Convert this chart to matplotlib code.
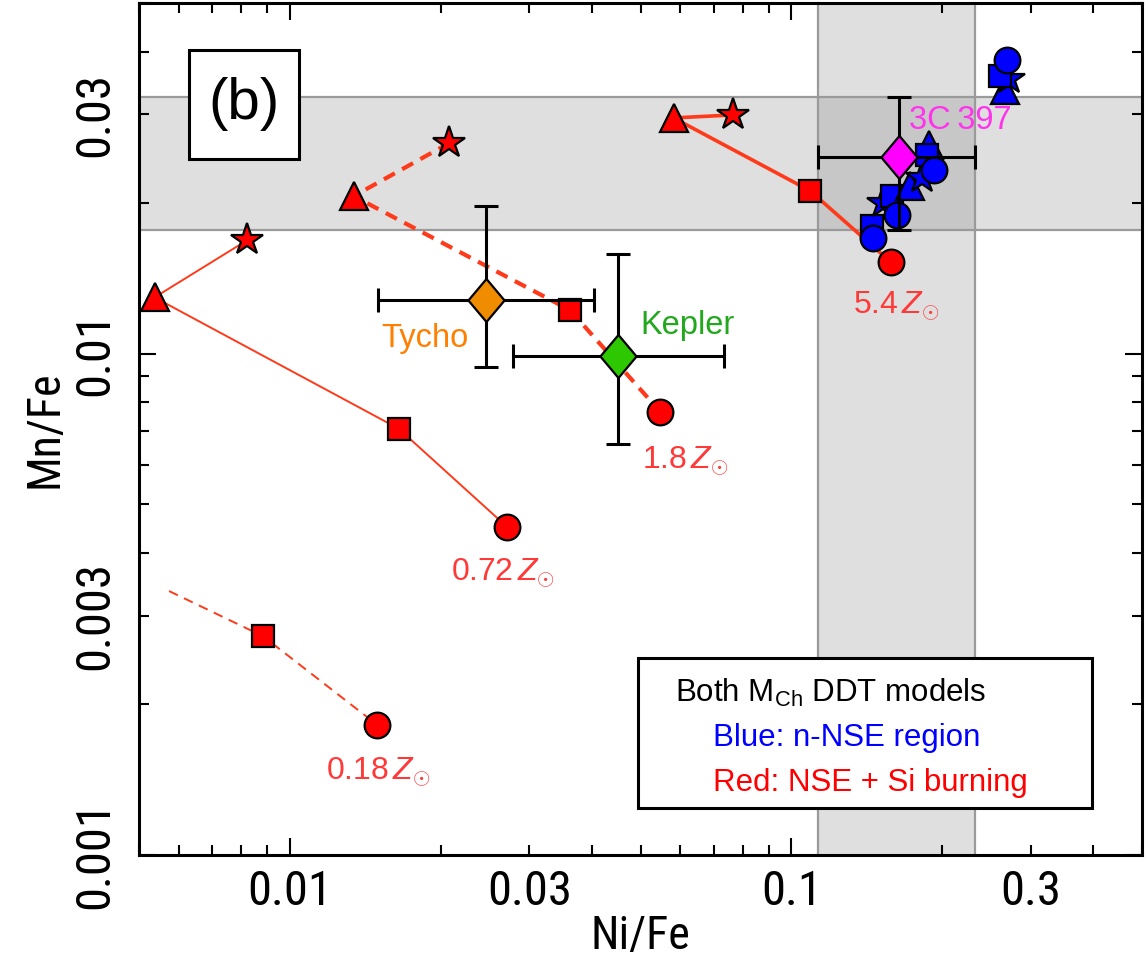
import matplotlib
matplotlib.use("Agg")
import matplotlib.pyplot as plt
from matplotlib import font_manager as fm
from matplotlib.ticker import FixedLocator, FuncFormatter
from matplotlib.patches import Rectangle
from matplotlib.path import Path

# ---------------- data ----------------
xlim = (0.005, 0.5)
ylim = (0.001, 0.05)

# SNR observations: Ni/Fe, Mn/Fe with (low, high) ranges
snr_names = ["Tycho", "Kepler", "3C\u2009397"]
snr_ni = [0.0246, 0.0451, 0.164]
snr_ni_lo = [0.0150, 0.0279, 0.113]
snr_ni_hi = [0.0404, 0.0733, 0.232]
snr_mn = [0.0128, 0.0099, 0.0247]
snr_mn_lo = [0.0094, 0.0066, 0.0176]
snr_mn_hi = [0.0197, 0.0158, 0.0325]

# red models (NSE + Si burning), points ordered star, triangle, square, circle
model_labels = ["0.18", "0.72", "1.8", "5.4"]
red_018_ni = [0.00574, 0.00884, 0.0149]
red_018_mn = [0.00336, 0.00273, 0.00182]
red_018_mk = ["", "s", "o"]
red_072_ni = [0.00822, 0.00537, 0.01648, 0.0271]
red_072_mn = [0.01683, 0.01294, 0.00708, 0.00451]
red_18_ni = [0.0208, 0.0134, 0.0362, 0.0547]
red_18_mn = [0.0263, 0.0206, 0.0122, 0.00766]
red_54_ni = [0.0763, 0.0582, 0.109, 0.158]
red_54_mn = [0.0299, 0.0295, 0.0211, 0.0152]
red_mk = ["*", "^", "s", "o"]

# blue models (n-NSE region)
blue_ni = [0.266, 0.272, 0.2606, 0.2685,
           0.145, 0.1456, 0.152, 0.159, 0.1625, 0.172, 0.182, 0.188, 0.186, 0.192]
blue_mn = [0.0336, 0.0352, 0.0358, 0.0384,
           0.0180, 0.0170, 0.0200, 0.0206, 0.0189, 0.0216, 0.0224, 0.0261, 0.0249, 0.0232]
blue_mk = ["^", "*", "s", "o",
           "s", "o", "*", "s", "o", "^", "*", "^", "s", "o"]

# ---------------- style ----------------
names = {f.name for f in fm.fontManager.ttflist}
base = "Liberation Sans" if "Liberation Sans" in names else "DejaVu Sans"
narrow = base
for cand in ["Liberation Sans Narrow", "Arial Narrow", "Nimbus Sans Narrow",
             "Roboto Condensed", "Open Sans Condensed"]:
    if cand in names:
        narrow = cand
        break
plt.rcParams["font.family"] = [base, "DejaVu Sans"]
plt.rcParams["mathtext.fontset"] = "custom"
plt.rcParams["mathtext.rm"] = base
plt.rcParams["mathtext.it"] = base + ":italic"

LINE_RED = "#ff3a1a"
FILL_RED = "#ff0000"
TXT_RED = "#ff3838"

fig = plt.figure(figsize=(11.45, 9.58), dpi=100)
ax = fig.add_axes([139 / 1145, 103 / 958, 1003 / 1145, 852 / 958])
ax.set_xscale("log")
ax.set_yscale("log")
ax.set_xlim(*xlim)
ax.set_ylim(*ylim)

# shaded 3C 397 ranges
i3 = 2
ax.axhspan(snr_mn_lo[i3], snr_mn_hi[i3], color="0.5", alpha=0.25, lw=0, zorder=0)
ax.axvspan(snr_ni_lo[i3], snr_ni_hi[i3], color="0.5", alpha=0.25, lw=0, zorder=0)
for v in (snr_mn_lo[i3], snr_mn_hi[i3]):
    ax.axhline(v, color="#9a9a9a", lw=1.6, zorder=0.5)
for v in (snr_ni_lo[i3], snr_ni_hi[i3]):
    ax.axvline(v, color="#9a9a9a", lw=1.6, zorder=0.5)

msz = {"o": 18.5, "s": 16, "^": 20, "*": 24, "": 0}
mew = 1.6

def draw_model(xs, ys, mks, ls, lw, dashes=None):
    line, = ax.plot(xs, ys, color=LINE_RED, lw=lw, ls=ls, zorder=2)
    if dashes is not None:
        line.set_dashes(dashes)
    for x, y, m in zip(xs, ys, mks):
        if m:
            ax.plot([x], [y], marker=m, ms=msz[m], mfc=FILL_RED, mec="black",
                    mew=mew, ls="none", zorder=3)

draw_model(red_018_ni, red_018_mn, red_018_mk, "--", 1.4, dashes=(5, 3.5))
draw_model(red_072_ni, red_072_mn, red_mk, "-", 1.4)
draw_model(red_18_ni, red_18_mn, red_mk, "--", 3.0, dashes=(3, 2))
draw_model(red_54_ni, red_54_mn, red_mk, "-", 2.6)

for x, y, m in zip(blue_ni, blue_mn, blue_mk):
    ax.plot([x], [y], marker=m, ms=msz[m], mfc="#0000ff", mec="black",
            mew=mew, ls="none", zorder=4)

# SNR diamonds
diamond = Path([(0, 1), (0.84, 0), (0, -1), (-0.84, 0), (0, 1)],
               [Path.MOVETO, Path.LINETO, Path.LINETO, Path.LINETO, Path.CLOSEPOLY])
snr_fill = ["#f08c00", "#2ec800", "#ff00ff"]
snr_txt = ["#ff7f00", "#22a81c", "#ff33ee"]
snr_off = [(-44, -28), (50, 22), (44, 26)]
for k in range(3):
    xe = [[snr_ni[k] - snr_ni_lo[k]], [snr_ni_hi[k] - snr_ni[k]]]
    ye = [[snr_mn[k] - snr_mn_lo[k]], [snr_mn_hi[k] - snr_mn[k]]]
    ax.errorbar([snr_ni[k]], [snr_mn[k]], xerr=xe, yerr=ye, fmt="none",
                ecolor="black", elinewidth=2.2, capsize=8.5, capthick=2.2, zorder=5)
    ax.plot([snr_ni[k]], [snr_mn[k]], marker=diamond, ms=31, mfc=snr_fill[k],
            mec="black", mew=1.6, ls="none", zorder=6)
    ax.annotate(snr_names[k], (snr_ni[k], snr_mn[k]), xytext=snr_off[k],
                textcoords="offset points", ha="center", va="center",
                fontsize=23.5, color=snr_txt[k], zorder=7)

# metallicity labels at circle points
lab_pts = [(red_018_ni[-1], red_018_mn[-1], (1, -34)),
           (red_072_ni[-1], red_072_mn[-1], (-3, -33)),
           (red_18_ni[-1], red_18_mn[-1], (18, -35)),
           (red_54_ni[-1], red_54_mn[-1], (4, -31))]
for lab, (x, y, off) in zip(model_labels, lab_pts):
    ax.annotate(lab + r"$\,Z_{\odot}$", (x, y), xytext=off,
                textcoords="offset points", ha="center", va="center",
                fontsize=23, color=TXT_RED, zorder=7)

# (b) box
ax.add_patch(Rectangle((0.0499, 0.817), 0.1096, 0.128, transform=ax.transAxes,
                       fc="white", ec="black", lw=2.2, zorder=8))
ax.text(0.1047, 0.881, "(b)", transform=ax.transAxes, ha="center", va="center",
        fontsize=42, zorder=9)

# legend box
ax.add_patch(Rectangle((0.4975, 0.0552), 0.4525, 0.176, transform=ax.transAxes,
                       fc="white", ec="black", lw=2.2, zorder=8))
ax.text(0.534, 0.190, r"Both M$_{\mathrm{Ch}}$ DDT models", transform=ax.transAxes,
        ha="left", va="center", fontsize=22.5, color="black", zorder=9)
ax.text(0.572, 0.137, "Blue: n-NSE region", transform=ax.transAxes,
        ha="left", va="center", fontsize=22.5, color="#0000ff", zorder=9)
ax.text(0.572, 0.0845, "Red: NSE + Si burning", transform=ax.transAxes,
        ha="left", va="center", fontsize=22.5, color="#ff0000", zorder=9)

# axes / ticks
def minors(lo, hi):
    out = []
    for d in (1e-3, 1e-2, 1e-1):
        for m in range(2, 10):
            v = m * d
            if lo - 1e-12 <= v <= hi + 1e-12:
                out.append(v)
    return out

x_major = [0.01, 0.1]
y_major = [0.001, 0.01]
x_lab = {0.01: "0.01", 0.03: "0.03", 0.1: "0.1", 0.3: "0.3"}
y_lab = {0.001: "0.001", 0.003: "0.003", 0.01: "0.01", 0.03: "0.03"}

def fmt(d):
    def f(v, pos):
        for k, s in d.items():
            if abs(v - k) / k < 1e-6:
                return s
        return ""
    return FuncFormatter(f)

ax.xaxis.set_major_locator(FixedLocator(x_major))
ax.xaxis.set_minor_locator(FixedLocator(minors(*xlim)))
ax.yaxis.set_major_locator(FixedLocator(y_major))
ax.yaxis.set_minor_locator(FixedLocator(minors(*ylim)))
ax.xaxis.set_major_formatter(fmt(x_lab))
ax.xaxis.set_minor_formatter(fmt(x_lab))
ax.yaxis.set_major_formatter(fmt(y_lab))
ax.yaxis.set_minor_formatter(fmt(y_lab))

tick_fs = 31 if narrow == base else 35
ax.tick_params(which="both", direction="in", top=True, right=True, width=1.5,
               labelsize=tick_fs, color="black")
ax.tick_params(which="major", length=12)
ax.tick_params(which="minor", length=7)
ax.tick_params(axis="x", which="both", pad=10)
ax.tick_params(axis="y", which="both", pad=15)
for lab in ax.get_xticklabels(which="both") + ax.get_yticklabels(which="both"):
    lab.set_family([narrow, "DejaVu Sans"])
for lab in ax.get_yticklabels(which="both"):
    lab.set_rotation(90)
    lab.set_va("center")
for s in ax.spines.values():
    s.set_linewidth(2.2)

ax.set_xlabel("Ni/Fe", fontsize=tick_fs - 2, family=[narrow, "DejaVu Sans"], labelpad=-1)
ax.set_ylabel("Mn/Fe", fontsize=tick_fs - 2, family=[narrow, "DejaVu Sans"], labelpad=4)

fig.savefig("out.png", dpi=100)
